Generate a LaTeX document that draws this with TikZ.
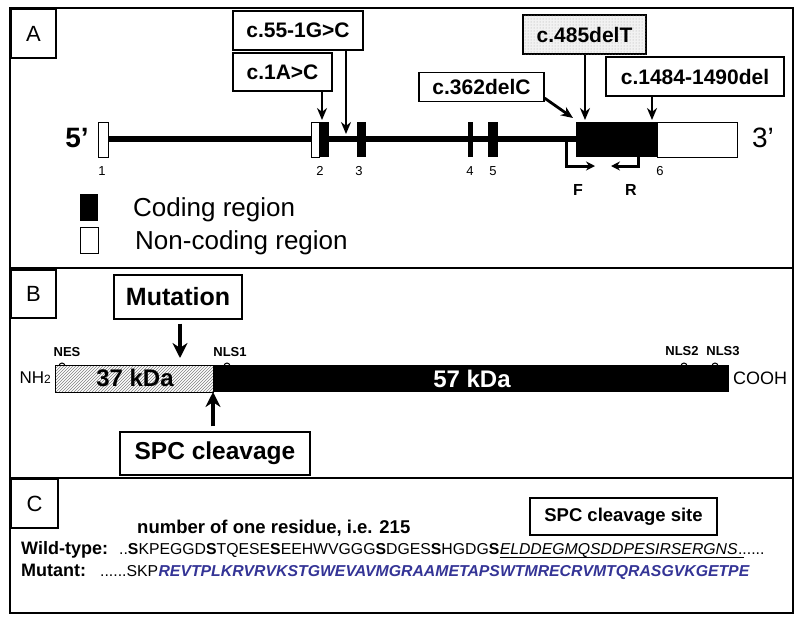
\documentclass[tikz,border=0pt]{standalone}
\usepackage{fontspec}
\setmainfont{Liberation Sans}
\usetikzlibrary{arrows.meta,patterns}
\definecolor{mutblue}{RGB}{52,52,150}
\newcommand{\fsz}[1]{\fontsize{#1}{#1}\selectfont}

\begin{document}
\begin{tikzpicture}[>=Stealth, x=1pt, y=-1pt,
  mutbox/.style={draw, line width=1.3pt, fill=white, inner sep=0pt, font=\fsz{21}\bfseries},
  bigbox/.style={draw, line width=1.4pt, fill=white, inner sep=0pt, font=\fsz{24.5}\bfseries},
  panelbox/.style={draw, line width=2pt, inner sep=0pt, anchor=north west, font=\fsz{22}},
  exnum/.style={inner sep=0pt, font=\fsz{13}},
  site/.style={inner sep=0pt, font=\fsz{13}\bfseries},
  seqtxt/.style={anchor=base west, inner sep=0pt, font=\fsz{15.8}},
  mutarrow/.style={-{Stealth[length=12pt,width=10pt]}, line width=2.8pt},
  primer/.style={-{Stealth[length=9pt,width=9pt]}, line width=3pt},
  fatarrow/.style={-{Stealth[length=15pt,width=15pt]}, line width=4.6pt}]
  \useasboundingbox (0,0) rectangle (800,619);
  % ---------------------------------------------------------------- frames of the three panels
  \draw[line width=2.8pt] (10,8) rectangle (793,613);
  \draw[line width=2.8pt] (10,268) -- (793,268);
  \draw[line width=2.8pt] (10,478) -- (793,478);
  % ---------------------------------------------------------------- (A) the gene, exons 1-6
  \begin{scope}
    \node[panelbox, minimum width=45pt, minimum height=49pt] (labA) at (10,8) {A};
    \node[font=\fsz{28}\bfseries, inner sep=0pt] (five) at (77,138) {5’};
    \node[font=\fsz{28}, inner sep=0pt] (three) at (763,138) {3’};
    % intron line and exons
    \draw[line width=6pt] (108,139) -- (576,139);
    \draw[line width=0.8pt, fill=white] (98,122) rectangle (108,157);
    \draw[line width=0.8pt, fill=white] (311,122) rectangle (319,157);
    \fill (319,122) rectangle (329,157);
    \fill (357,122) rectangle (366,157);
    \fill (468,122) rectangle (473,157);
    \fill (488,122) rectangle (498,157);
    \fill (576,122) rectangle (657,157);
    \draw[line width=0.8pt, fill=white] (657,122) rectangle (737,157);
    \node[exnum] (n1) at (102,171) {1};
    \node[exnum] (n2) at (320,171) {2};
    \node[exnum] (n3) at (359,171) {3};
    \node[exnum] (n4) at (470,171) {4};
    \node[exnum] (n5) at (493,171) {5};
    \node[exnum] (n6) at (660,171) {6};
    % primers
    \draw[primer] (566,141) -- (566,166) -- (595,166);
    \draw[primer] (638,157) -- (638,166) -- (611,166);
    \node[font=\fsz{16}\bfseries, inner sep=0pt] (fwd) at (578,190) {F};
    \node[font=\fsz{16}\bfseries, inner sep=0pt] (rev) at (631,190) {R};
    % the mutations
    \node[mutbox, minimum width=130pt, minimum height=39pt] (c55) at (298,30.5) {c.55-1G>C};
    \node[mutbox, minimum width=99pt, minimum height=38pt] (c1) at (282.5,72) {c.1A>C};
    \node[mutbox, minimum width=123pt, minimum height=39pt, fill=gray!10,
      postaction={pattern=dots, pattern color=gray!70}] (c485) at (584.5,34.5) {};
    \node[font=\fsz{21}\bfseries, inner sep=0pt] at (c485) {c.485delT};
    \node[mutbox, minimum width=125pt, minimum height=29pt] (c362) at (481.5,87) {c.362delC};
    \node[mutbox, minimum width=178pt, minimum height=39pt] (c1484) at (695,76.5) {c.1484-1490del};
    \coordinate (t1) at (322,120);
    \coordinate (t55) at (346,134);
    \coordinate (t362) at (573,118);
    \coordinate (t485) at (585,120);
    \coordinate (t1484) at (652,120);
    \draw[mutarrow] (c1.south -| t1) -- (t1);
    \draw[mutarrow] (c55.south -| t55) -- (t55);
    \draw[mutarrow] ([yshift=4pt]c362.south east) -- (t362);
    \draw[mutarrow] (c485.south -| t485) -- (t485);
    \draw[mutarrow] (c1484.south -| t1484) -- (t1484);
    % legend
    \fill (80,194) rectangle (98,221);
    \draw[line width=0.9pt] (80,227) rectangle (98,253);
    \node[anchor=base west, inner sep=0pt, font=\fsz{26}] (lcod) at (133,216) {Coding region};
    \node[anchor=base west, inner sep=0pt, font=\fsz{26}] (lnon) at (135,249) {Non-coding region};
  \end{scope}
  % ---------------------------------------------------------------- (B) the protein
  \begin{scope}
    \node[panelbox, minimum width=45pt, minimum height=48pt] (labB) at (10,269) {B};
    \fill[white] (55,365) rectangle (213,392);
    \fill[pattern=north east lines, pattern color=gray] (55,365) rectangle (213,392);
    \draw[line width=0.7pt] (55,365) rectangle (213,392);
    \fill (213,365) rectangle (729,392);
    \node[font=\fsz{24}\bfseries, inner sep=0pt] (p37) at (135,378) {37 kDa};
    \node[font=\fsz{24}\bfseries, inner sep=0pt, text=white] (p57) at (472,379) {57 kDa};
    \node[anchor=east, inner sep=0pt, font=\fsz{17}] (nterm) at (51,378) {NH{\fsz{12}2}};
    \node[anchor=west, inner sep=0pt, font=\fsz{18}] (cterm) at (733,378) {COOH};
    % signal sites
    \foreach \sx in {62,227,684,715}
      \draw[line width=1pt] (\sx-3,366) arc[start angle=180, end angle=360, radius=3];
    \node[site] (nes) at (67,352) {NES};
    \node[site] (nls1) at (230,352) {NLS1};
    \node[site] (nls2) at (682,351) {NLS2};
    \node[site] (nls3) at (723,351) {NLS3};
    % mutation and cleavage
    \node[bigbox, font=\fsz{25}\bfseries, minimum width=128pt, minimum height=44pt] (mut) at (178,297) {Mutation};
    \node[bigbox, minimum width=190pt, minimum height=43pt] (spc) at (215,453.5) {SPC cleavage};
    \coordinate (tmut) at (180,358);
    \coordinate (tspc) at (213,392);
    \draw[fatarrow] ([yshift=-4pt]mut.south -| tmut) -- (tmut);
    \draw[fatarrow] ([yshift=5pt]spc.north -| tspc) -- (tspc);
  \end{scope}
  % ---------------------------------------------------------------- (C) wild-type and mutant sequences
  \begin{scope}
    \node[panelbox, minimum width=47pt, minimum height=49pt] (labC) at (10,478) {C};
    \node[anchor=base west, inner sep=0pt, font=\fsz{18.5}\bfseries] (resno) at (137,533) {number of one residue, i.e. 215};
    \node[draw, line width=1.3pt, inner sep=0pt, minimum width=187pt, minimum height=37pt,
      font=\fsz{18.5}\bfseries] (site) at (623.5,516.5) {SPC cleavage site};
    \node[anchor=base west, inner sep=0pt, font=\fsz{18}\bfseries] (wtlab) at (21,554) {Wild-type:};
    \node[seqtxt] (wtseq) at (119,554) {..\textbf{S}KPEGGD\textbf{S}TQESE\textbf{S}EEHWVGGG\textbf{S}DGES\textbf{S}HGDG\textbf{S}};
    \node[seqtxt, font=\fsz{15.8}\itshape] (wtsite) at (wtseq.base east) {ELDDEGMQSDDPESIRSERGNS};
    \node[seqtxt] (wtdots) at (wtsite.base east) {......};
    \draw[line width=1.8pt] ([yshift=-3.5pt]wtsite.base west) -- ([yshift=-3.5pt, xshift=6pt]wtsite.base east);
    \node[anchor=base west, inner sep=0pt, font=\fsz{18}\bfseries] (mtlab) at (21,576) {Mutant:};
    \node[seqtxt] (mtseq) at (100,576) {......SKP};
    \node[seqtxt, font=\fsz{15.8}\bfseries\itshape, text=mutblue] (mtframe) at (mtseq.base east) {REVTPLKRVRVKSTGWEVAVMGRAAMETAPSWTMRECRVMTQRASGVKGETPE};
  \end{scope}
\end{tikzpicture}
\end{document}
